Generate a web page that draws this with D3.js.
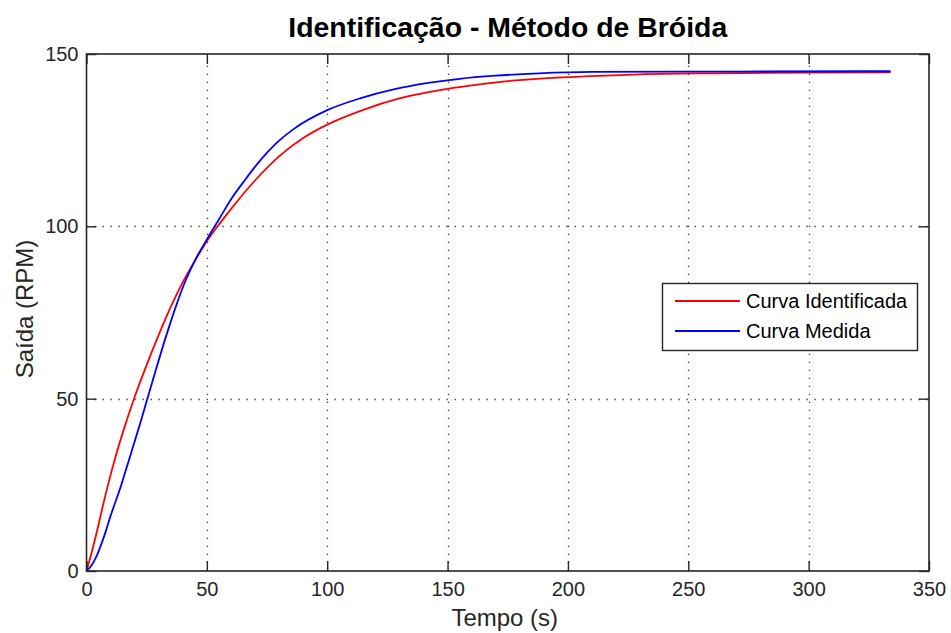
<!DOCTYPE html>
<html><head><meta charset="utf-8">
<script src="https://cdn.jsdelivr.net/npm/d3@7/dist/d3.min.js"></script>
<style>
html,body{margin:0;padding:0;background:#fff;}
svg{display:block;font-family:"Liberation Sans",Arial,Helvetica,sans-serif;}
</style></head>
<body><svg id="chart" width="951" height="633"></svg>
<script>
// Data
const titleText = "Identificação - Método de Bróida";
const xLabel = "Tempo (s)";
const yLabel = "Saída (RPM)";
const seriesNames = ["Curva Identificada", "Curva Medida"];
const xTicks = [0, 50, 100, 150, 200, 250, 300, 350];
const yTicks = [0, 50, 100, 150];

const tIdent = [0, 2, 4, 7, 11, 15, 20, 25, 30, 35, 40, 45, 50, 55, 60, 70, 80, 90, 100, 115, 130, 145, 160, 175, 190, 210, 230, 260, 300, 334];
const vIdent = [0, 5, 10.5, 19.5, 30.5, 40, 50.5, 59.8, 68.5, 76.6, 83.8, 90.0, 95.7, 100.5, 105.0, 113.3, 120.3, 125.6, 129.5, 133.8, 137.1, 139.3, 140.9, 142.1, 142.9, 143.6, 144.1, 144.4, 144.6, 144.7];

const tMedida = [0, 2, 4, 6, 8, 10, 12, 14, 16, 18, 20, 22.5, 25, 29, 33, 37, 41, 45, 50, 55, 60, 66, 72, 79, 86, 100, 114, 128, 142, 155, 170, 188, 210, 270, 326, 334];
const vMedida = [0, 1.5, 4, 7.5, 11.5, 16, 20, 24, 28.5, 33, 37.6, 43.3, 49.3, 58.8, 68, 76.5, 84, 90, 96.2, 102, 107.8, 113.6, 119, 124.2, 128.2, 133.7, 137.2, 139.8, 141.6, 142.8, 143.7, 144.4, 144.8, 144.9, 145.0, 145.0];

const colors = ["#ff0000", "#0000ff"];

const svg = d3.select("#chart");
const L = 86.5, R = 929, T = 54, B = 571;
const x = d3.scaleLinear().domain([0, 350]).range([L, R]);
const y = d3.scaleLinear().domain([0, 150]).range([B, T]);

svg.append("rect").attr("width", 951).attr("height", 633).attr("fill", "#fff");

// grid
const grid = svg.append("g").attr("stroke", "#333").attr("stroke-width", 1.3).attr("stroke-dasharray", "1.3,6.7");
grid.selectAll("line.vx").data(xTicks.slice(1, -1)).join("line")
  .attr("x1", d => Math.round(x(d)) + 0.5).attr("x2", d => Math.round(x(d)) + 0.5)
  .attr("y1", B).attr("y2", T);
grid.selectAll("line.hy").data(yTicks.slice(1, -1)).join("line")
  .attr("y1", d => Math.round(y(d)) + 0.5).attr("y2", d => Math.round(y(d)) + 0.5)
  .attr("x1", L).attr("x2", R);

// curves
const line = d3.line().x(d => x(d[0])).y(d => y(d[1])).curve(d3.curveMonotoneX);
const sets = [d3.zip(tIdent, vIdent), d3.zip(tMedida, vMedida)];
sets.forEach((s, i) => {
  svg.append("path").datum(s).attr("d", line).attr("fill", "none")
    .attr("stroke", colors[i]).attr("stroke-width", 1.8);
});

// axes
const tickFont = 20;
function styleAxis(g) {
  g.select(".domain").remove();
  g.selectAll(".tick line").attr("stroke", "#262626").attr("stroke-width", 1.4);
  g.selectAll(".tick text").attr("fill", "#262626").attr("font-size", tickFont)
    .attr("font-family", "Liberation Sans, Arial, sans-serif");
}
svg.append("g").attr("transform", `translate(0,${B})`)
  .call(d3.axisBottom(x).tickValues(xTicks).tickSizeInner(-10).tickSizeOuter(0).tickPadding(11).tickFormat(d3.format("d")))
  .call(styleAxis);
svg.append("g").attr("transform", `translate(0,${T})`)
  .call(d3.axisTop(x).tickValues(xTicks).tickSizeInner(-10).tickSizeOuter(0).tickFormat(""))
  .call(styleAxis);
svg.append("g").attr("transform", `translate(${L},0)`)
  .call(d3.axisLeft(y).tickValues(yTicks).tickSizeInner(-10).tickSizeOuter(0).tickPadding(8).tickFormat(d3.format("d")))
  .call(styleAxis);
svg.append("g").attr("transform", `translate(${R},0)`)
  .call(d3.axisRight(y).tickValues(yTicks).tickSizeInner(-10).tickSizeOuter(0).tickFormat(""))
  .call(styleAxis);

// box
svg.append("rect").attr("x", L).attr("y", T).attr("width", R - L).attr("height", B - T)
  .attr("fill", "none").attr("stroke", "#262626").attr("stroke-width", 1.6);

// title & labels
const title = svg.append("text").attr("x", (L + R) / 2).attr("y", 37).attr("text-anchor", "middle")
  .attr("font-size", 28).attr("font-weight", "bold").attr("fill", "#000").text(titleText);
title.attr("textLength", 439).attr("lengthAdjust", "spacingAndGlyphs");

svg.append("text").attr("x", (L + R) / 2 - 3).attr("y", 626).attr("text-anchor", "middle")
  .attr("font-size", 24).attr("fill", "#262626").text(xLabel);
svg.append("text").attr("transform", "translate(33,309) rotate(-90)").attr("text-anchor", "middle")
  .attr("font-size", 24).attr("fill", "#262626").text(yLabel);

// legend
const lg = svg.append("g");
lg.append("rect").attr("x", 662.5).attr("y", 283.5).attr("width", 255).attr("height", 67)
  .attr("fill", "#fff").attr("stroke", "#262626").attr("stroke-width", 1.4);
seriesNames.forEach((n, i) => {
  const yy = 301 + i * 30;
  lg.append("line").attr("x1", 675).attr("x2", 740).attr("y1", yy).attr("y2", yy)
    .attr("stroke", colors[i]).attr("stroke-width", 1.8);
  lg.append("text").attr("x", 746).attr("y", yy).attr("dy", "0.35em")
    .attr("font-size", 20).attr("fill", "#000").text(n);
});
</script></body></html>
